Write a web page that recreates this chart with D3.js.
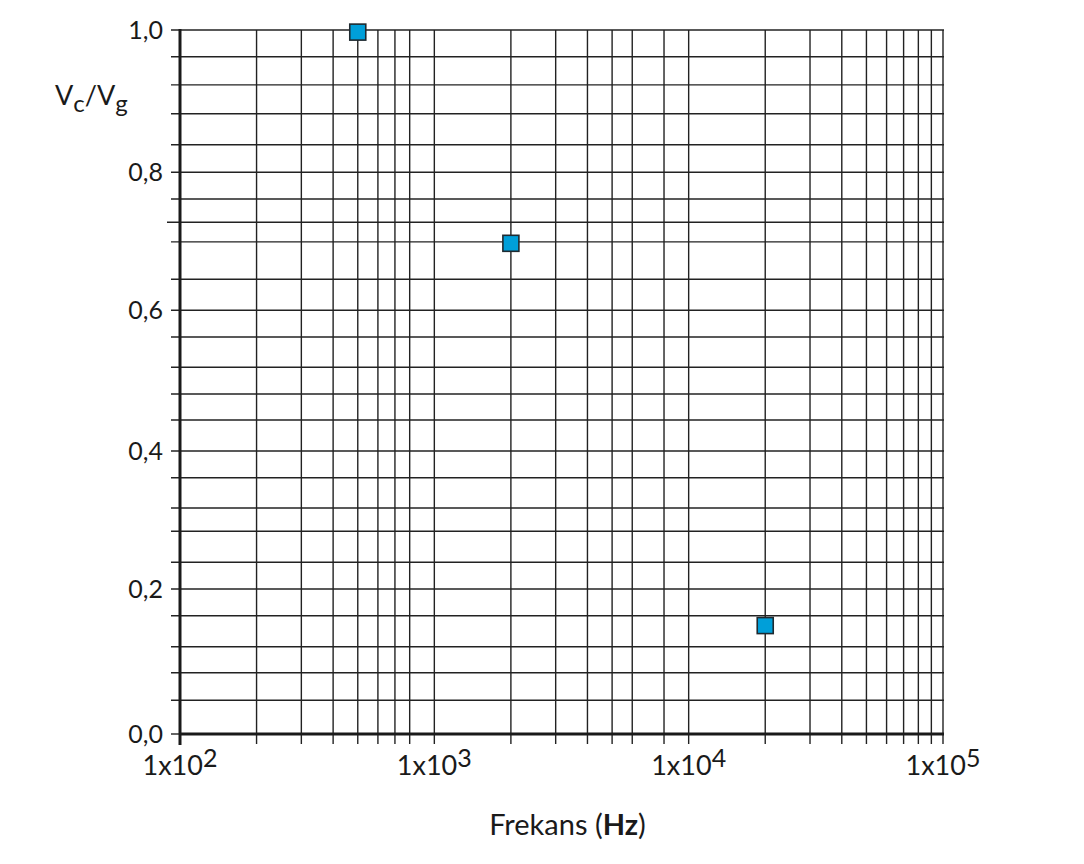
<!DOCTYPE html>
<html>
<head>
<meta charset="utf-8">
<script src="https://cdn.jsdelivr.net/npm/d3@7"></script>
<style>
  html, body { margin: 0; padding: 0; background: #fff; }
  svg text { font-family: Lato, "Open Sans", sans-serif; fill: #1a1a1a; }
</style>
</head>
<body>
<svg id="chart" width="1084" height="864"></svg>
<script>
// Measured points
const frequencies = [500, 2000, 20000];
const ratios = [0.997, 0.697, 0.154];

// Grid lines as printed on the sheet (900 and 7000/9000 are missing in the original)
const xGridValues = [200, 300, 400, 500, 600, 700, 800, 1000,
  2000, 3000, 4000, 5000, 6000, 8000, 10000,
  20000, 30000, 40000, 50000, 60000, 70000, 80000, 90000, 100000];
const xLabelValues = [100, 1000, 10000, 100000];
const xLabelExponents = ["2", "3", "4", "5"];

const yGridValues = [0.048, 0.087, 0.124, 0.168, 0.206, 0.244, 0.288, 0.321, 0.364,
  0.402, 0.446, 0.483, 0.521, 0.564, 0.602, 0.646, 0.699, 0.727, 0.760,
  0.798, 0.837, 0.881, 0.922, 0.962, 1.0];
const yLabelValues = [0, 0.206, 0.402, 0.602, 0.798, 1.0];
const yLabels = ["0,0", "0,2", "0,4", "0,6", "0,8", "1,0"];

const svg = d3.select("#chart");
const plotLeft = 180, plotRight = 943, plotTop = 30, plotBottom = 734;

const x = d3.scaleLog().domain([100, 100000]).range([plotLeft, plotRight]);
const y = d3.scaleLinear().domain([0, 1]).range([plotBottom, plotTop]);

const gridColor = "#222";

// horizontal grid, with short ticks left of the axis
svg.append("g")
  .selectAll("line")
  .data(yGridValues)
  .join("line")
  .attr("x1", (d) => d === 0.727 ? plotLeft - 13 : plotLeft - 9)
  .attr("x2", plotRight + 1)
  .attr("y1", (d) => y(d))
  .attr("y2", (d) => y(d))
  .attr("stroke", gridColor)
  .attr("stroke-width", 1.4);

// vertical grid, with ticks below the axis
svg.append("g")
  .selectAll("line")
  .data(xGridValues)
  .join("line")
  .attr("x1", (d) => x(d))
  .attr("x2", (d) => x(d))
  .attr("y1", plotTop)
  .attr("y2", plotBottom + 10)
  .attr("stroke", gridColor)
  .attr("stroke-width", 1.4);

// y tick mark at 0
svg.append("line")
  .attr("x1", plotLeft - 9).attr("x2", plotLeft)
  .attr("y1", y(0)).attr("y2", y(0))
  .attr("stroke", gridColor).attr("stroke-width", 1.4);

// axes (thick)
svg.append("line")
  .attr("x1", x(100)).attr("x2", x(100))
  .attr("y1", plotTop - 1).attr("y2", plotBottom + 11)
  .attr("stroke", "#1a1a1a").attr("stroke-width", 3);
svg.append("line")
  .attr("x1", plotLeft).attr("x2", plotRight + 1)
  .attr("y1", y(0)).attr("y2", y(0))
  .attr("stroke", "#1a1a1a").attr("stroke-width", 3);

// y labels
svg.append("g")
  .selectAll("text")
  .data(yLabelValues)
  .join("text")
  .attr("x", plotLeft - 17)
  .attr("y", (d) => y(d))
  .attr("dy", "0.36em")
  .attr("text-anchor", "end")
  .attr("font-size", 25)
  .text((d, i) => yLabels[i]);

// x labels with superscript exponent
const xl = svg.append("g")
  .selectAll("text")
  .data(xLabelValues)
  .join("text")
  .attr("x", (d) => x(d))
  .attr("y", 775)
  .attr("text-anchor", "middle")
  .attr("font-size", 27);
xl.append("tspan").text("1x10");
xl.append("tspan")
  .attr("dy", -8)
  .attr("font-size", 25)
  .text((d, i) => xLabelExponents[i]);

// y axis title
const yt = svg.append("text")
  .attr("x", 55)
  .attr("y", 105)
  .attr("font-size", 27);
yt.append("tspan").text("V");
yt.append("tspan").attr("dy", 7).attr("font-size", 24).text("c");
yt.append("tspan").attr("dy", -7).text("/V");
yt.append("tspan").attr("dy", 7).attr("font-size", 24).text("g");

// x axis title
const xt = svg.append("text")
  .attr("x", (plotLeft + plotRight) / 2 + 6)
  .attr("y", 835)
  .attr("text-anchor", "middle")
  .attr("font-size", 29);
xt.append("tspan").text("Frekans (");
xt.append("tspan").attr("font-weight", "bold").text("Hz");
xt.append("tspan").text(")");

// markers
const size = 16;
svg.append("g")
  .selectAll("rect")
  .data(frequencies)
  .join("rect")
  .attr("x", (d) => x(d) - size / 2)
  .attr("y", (d, i) => y(ratios[i]) - size / 2)
  .attr("width", size)
  .attr("height", size)
  .attr("fill", "#009fd9")
  .attr("stroke", "#1f2a30")
  .attr("stroke-width", 1.6);
</script>
</body>
</html>
